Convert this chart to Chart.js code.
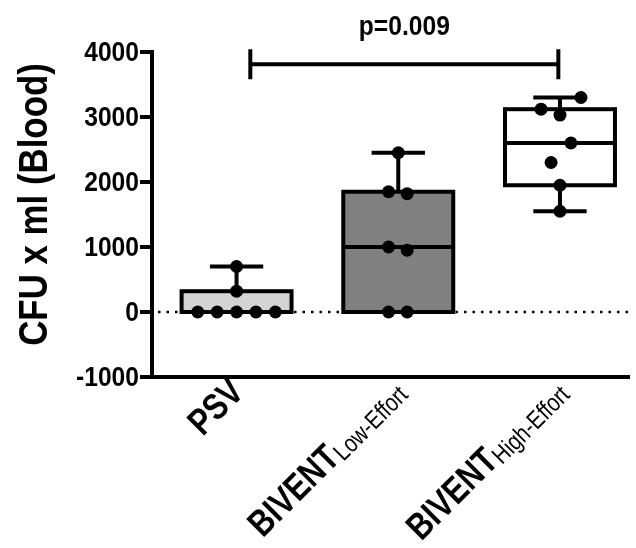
<!DOCTYPE html>
<html>
<head>
<meta charset="utf-8">
<script src="https://cdn.jsdelivr.net/npm/chart.js@4.4.0/dist/chart.umd.min.js"></script>
<style>
  body { margin: 0; background: #fff; }
  #wrap { width: 636px; height: 548px; }
</style>
</head>
<body>
<div id="wrap"><canvas id="cfu"></canvas></div>
<script>
//==============DATA=============
var labelMain = ["PSV", "BIVENT", "BIVENT"];
var labelSub = ["", "Low-Effort", "High-Effort"];
var yTitle = "CFU x ml (Blood)";

// individual animals
var psvValues = [0, 0, 0, 0, 0, 320, 700];
var psvJitter = [-0.24, -0.12, 0, 0.12, 0.24, 0, 0];
var lowValues = [0, 0, 950, 1000, 1820, 1850, 2450];
var lowJitter = [-0.06, 0.055, 0.055, -0.06, 0.055, -0.06, 0];
var highValues = [1550, 1950, 2300, 2600, 3030, 3120, 3300];
var highJitter = [0, 0, -0.055, 0.068, 0, -0.117, 0.13];

// box & whisker summary per group
var boxMin = [0, 0, 1550];
var boxQ1 = [0, 0, 1950];
var boxMedian = [0, 1000, 2600];
var boxQ3 = [320, 1850, 3120];
var boxMax = [700, 2450, 3300];
var boxFill = ["#d4d4d4", "#808080", "#ffffff"];

var yTicks = [-1000, 0, 1000, 2000, 3000, 4000];
var pText = "p=0.009";
var bracketFrom = 0.085;
var bracketTo = 1.99;
var bracketValue = 3810;

//-------points as one scatter set---------
var groups = [psvValues, lowValues, highValues];
var jitters = [psvJitter, lowJitter, highJitter];
var points = [];
groups.forEach(function (vals, g) {
  vals.forEach(function (v, k) {
    points.push({ x: g + jitters[g][k], y: v });
  });
});

var FONT = "'Liberation Sans', Arial, sans-serif";

// the figure uses a narrow face, so squeeze the text along its baseline
function narrowText(ctx, text, x, y, squeeze) {
  ctx.save();
  ctx.translate(x, y);
  ctx.scale(squeeze, 1);
  ctx.fillText(text, 0, 0);
  ctx.restore();
}

//-------zero line + boxes, under the dots----------
var boxPlugin = {
  id: "boxes",
  beforeDatasetsDraw: function (chart) {
    var ctx = chart.ctx;
    var xs = chart.scales.x;
    var ys = chart.scales.y;
    var area = chart.chartArea;

    // dotted line at 0
    ctx.save();
    ctx.strokeStyle = "#000";
    ctx.lineWidth = 2.5;
    ctx.setLineDash([2.5, 6]);
    ctx.beginPath();
    ctx.moveTo(area.left + 6, ys.getPixelForValue(0));
    ctx.lineTo(area.right, ys.getPixelForValue(0));
    ctx.stroke();
    ctx.restore();

    ctx.save();
    ctx.strokeStyle = "#000";
    ctx.lineWidth = 4;
    ctx.lineCap = "butt";
    for (var i = 0; i < labelMain.length; i++) {
      var left = xs.getPixelForValue(i - 0.34);
      var right = xs.getPixelForValue(i + 0.34);
      var mid = xs.getPixelForValue(i);
      var capL = xs.getPixelForValue(i - 0.165);
      var capR = xs.getPixelForValue(i + 0.165);
      var yMin = ys.getPixelForValue(boxMin[i]);
      var yQ1 = ys.getPixelForValue(boxQ1[i]);
      var yMed = ys.getPixelForValue(boxMedian[i]);
      var yQ3 = ys.getPixelForValue(boxQ3[i]);
      var yMax = ys.getPixelForValue(boxMax[i]);

      // whiskers
      ctx.beginPath();
      ctx.moveTo(mid, yQ3);
      ctx.lineTo(mid, yMax);
      ctx.moveTo(capL, yMax);
      ctx.lineTo(capR, yMax);
      if (boxMin[i] < boxQ1[i]) {
        ctx.moveTo(mid, yQ1);
        ctx.lineTo(mid, yMin);
        ctx.moveTo(capL, yMin);
        ctx.lineTo(capR, yMin);
      }
      ctx.stroke();

      // box
      ctx.fillStyle = boxFill[i];
      ctx.fillRect(left, yQ3, right - left, yQ1 - yQ3);
      ctx.strokeRect(left, yQ3, right - left, yQ1 - yQ3);

      // median
      ctx.beginPath();
      ctx.moveTo(left, yMed);
      ctx.lineTo(right, yMed);
      ctx.stroke();
    }
    ctx.restore();
  },
  afterDraw: function (chart) {
    var ctx = chart.ctx;
    var xs = chart.scales.x;
    var ys = chart.scales.y;
    var area = chart.chartArea;

    ctx.save();
    ctx.fillStyle = "#000";

    //------y tick labels-------
    ctx.font = "bold 28px " + FONT;
    ctx.textAlign = "right";
    ctx.textBaseline = "middle";
    yTicks.forEach(function (v) {
      narrowText(ctx, String(v), area.left - 13, ys.getPixelForValue(v) + 1, 0.88);
    });

    //------y title-------
    ctx.save();
    ctx.translate(47, (area.top + area.bottom) / 2 - 10);
    ctx.rotate(-Math.PI / 2);
    ctx.font = "bold 41px " + FONT;
    ctx.textAlign = "center";
    ctx.textBaseline = "alphabetic";
    narrowText(ctx, yTitle, 0, 0, 0.85);
    ctx.restore();

    //------significance bracket-------
    var bx1 = xs.getPixelForValue(bracketFrom);
    var bx2 = xs.getPixelForValue(bracketTo);
    var by = ys.getPixelForValue(bracketValue);
    ctx.strokeStyle = "#000";
    ctx.lineWidth = 4;
    ctx.beginPath();
    ctx.moveTo(bx1, by);
    ctx.lineTo(bx2, by);
    ctx.moveTo(bx1, by - 15);
    ctx.lineTo(bx1, by + 15);
    ctx.moveTo(bx2, by - 15);
    ctx.lineTo(bx2, by + 15);
    ctx.stroke();

    ctx.textAlign = "center";
    ctx.textBaseline = "alphabetic";
    ctx.font = "bold 28px " + FONT;
    narrowText(ctx, pText, (bx1 + bx2) / 2, by - 29, 0.88);

    //------rotated group names with subscript-------
    for (var i = 0; i < labelMain.length; i++) {
      var px = xs.getPixelForValue(i) + 9;
      var py = area.bottom + 17;
      ctx.save();
      ctx.translate(px, py);
      ctx.rotate(-Math.PI / 4);
      ctx.textAlign = "right";
      var subW = 0;
      if (labelSub[i]) {
        ctx.font = "25px " + FONT;
        subW = ctx.measureText(labelSub[i]).width * 0.82;
        narrowText(ctx, labelSub[i], 0, 3, 0.82);
      }
      ctx.font = "bold 37px " + FONT;
      narrowText(ctx, labelMain[i], -subW, 0, 0.82);
      ctx.restore();
    }
    ctx.restore();
  },
};

var ctx = document.getElementById("cfu").getContext("2d");

var chart = new Chart(ctx, {
  type: "scatter",
  data: {
    datasets: [
      {
        label: "CFU",
        data: points,
        backgroundColor: "#000",
        borderWidth: 0,
        pointRadius: 6.5,
      },
    ],
  },
  options: {
    responsive: true,
    maintainAspectRatio: false,
    animation: false,
    layout: {
      padding: { top: 52, right: 3, bottom: 0, left: 0 },
    },
    plugins: {
      legend: { display: false },
      tooltip: { enabled: false },
    },
    scales: {
      x: {
        type: "linear",
        min: -0.523,
        max: 2.43,
        ticks: { display: false },
        grid: { display: false },
        border: { display: true, color: "#000", width: 4 },
        afterFit: function (scale) {
          scale.height = 171;
        },
      },
      y: {
        min: -1000,
        max: 4000,
        afterBuildTicks: function (scale) {
          scale.ticks = yTicks.map(function (v) {
            return { value: v };
          });
        },
        ticks: { display: false },
        grid: {
          drawOnChartArea: false,
          drawTicks: true,
          tickLength: 12,
          lineWidth: 4,
          color: "#000",
        },
        border: { display: true, color: "#000", width: 4 },
        afterFit: function (scale) {
          scale.width = 152;
        },
      },
    },
  },
  plugins: [boxPlugin],
});
</script>
</body>
</html>
